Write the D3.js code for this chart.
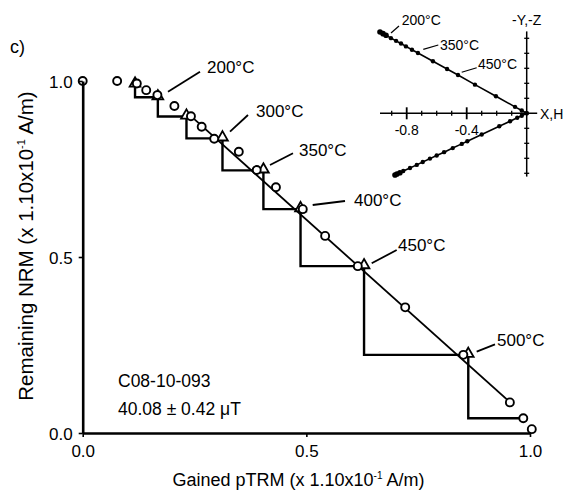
<!DOCTYPE html>
<html><head><meta charset="utf-8">
<script src="https://cdn.jsdelivr.net/npm/d3@7"></script>
<style>
body{margin:0;background:#fff}
svg{display:block}
text{font-family:"Liberation Sans",Arial,sans-serif;fill:#000}
</style>
</head><body>
<svg id="chart" width="565" height="490"></svg>
<script>
// ---- Arai plot data ----
const gainedPTRM   = [0, 0.077, 0.121, 0.142, 0.167, 0.205, 0.242, 0.266, 0.294, 0.349, 0.389, 0.432, 0.492, 0.542, 0.615, 0.721, 0.851, 0.955, 0.985, 1.004];
const remainingNRM = [1.0, 1.0, 0.993, 0.974, 0.960, 0.929, 0.900, 0.870, 0.836, 0.799, 0.747, 0.698, 0.636, 0.560, 0.474, 0.357, 0.222, 0.087, 0.042, 0.011];
// pTRM checks (triangles)
const checkPTRM = [0.117, 0.168, 0.232, 0.3125, 0.404, 0.487, 0.629, 0.862];
const checkNRM  = [0.990, 0.954, 0.899, 0.837, 0.746, 0.636, 0.474, 0.222];
const stairEndIndex = 18;
// best-fit segment
const fitPTRM = [0.242, 0.955];
const fitNRM  = [0.900, 0.088];
const stepLabels = ["200°C", "300°C", "350°C", "400°C", "450°C", "500°C"];
const axisTicks = [0.0, 0.5, 1.0];
const sampleName = "C08-10-093";
const intensity = "40.08 ± 0.42 μT";

// ---- Zijderveld inset data ----
const upperX = [-0.978, -0.958, -0.938, -0.905, -0.871, -0.838, -0.805, -0.765, -0.725, -0.625, -0.531, -0.458, -0.345, -0.205, -0.078, -0.033, 0];
const upperV = [0.542, 0.531, 0.520, 0.501, 0.483, 0.465, 0.446, 0.424, 0.402, 0.347, 0.295, 0.255, 0.191, 0.114, 0.043, 0.019, 0];
const lowerX = [-0.878, -0.865, -0.845, -0.823, -0.778, -0.733, -0.693, -0.645, -0.600, -0.551, -0.493, -0.433, -0.396, -0.300, -0.183, -0.111, -0.063, -0.033, 0];
const lowerV = [-0.411, -0.405, -0.396, -0.385, -0.365, -0.344, -0.325, -0.302, -0.281, -0.259, -0.232, -0.204, -0.186, -0.141, -0.086, -0.053, -0.030, -0.016, 0];
const insetHTicks = [-0.9, -0.8, -0.7, -0.6, -0.5, -0.4, -0.3, -0.2, -0.1];
const insetHMajor = [-0.8, -0.4];
const insetVTicks = [0.5, 0.4, 0.3, 0.2, 0.1, -0.1, -0.2, -0.3, -0.4];
const insetLabels = ["200°C", "350°C", "450°C"];

const svg = d3.select("#chart");
const x = d3.scaleLinear().domain([0, 1]).range([82.7, 530]);
const y = d3.scaleLinear().domain([0, 1]).range([433, 81]);

// axes
const gx = svg.append("g").attr("transform", "translate(0,433)")
  .call(d3.axisBottom(x).tickValues(axisTicks).tickFormat(d3.format(".1f")).tickSize(4).tickSizeOuter(0).tickPadding(8));
const gy = svg.append("g").attr("transform", "translate(82.7,0)")
  .call(d3.axisLeft(y).tickValues(axisTicks).tickFormat(d3.format(".1f")).tickSize(4).tickSizeOuter(0).tickPadding(6));
[gx, gy].forEach(g => {
  g.select(".domain").attr("stroke", "#000").attr("stroke-width", 2.6);
  g.selectAll(".tick line").attr("stroke", "#000").attr("stroke-width", 1.6);
  g.selectAll(".tick text").attr("font-size", 17).attr("font-family", '"Liberation Sans",Arial,sans-serif').attr("fill", "#000");
});
gy.selectAll(".tick text").attr("dy", "0.36em");

// axis titles
const xt = svg.append("text").attr("x", 298.5).attr("y", 486).attr("text-anchor", "middle").attr("font-size", 18);
xt.append("tspan").text("Gained pTRM (x 1.10x10");
xt.append("tspan").attr("font-size", 10).attr("dy", -7).text("-1");
xt.append("tspan").attr("dy", 7).text(" A/m)");
const yt = svg.append("text").attr("transform", "translate(33,246) rotate(-90)").attr("text-anchor", "middle").attr("font-size", 20.5);
yt.append("tspan").text("Remaining NRM (x 1.10x10");
yt.append("tspan").attr("font-size", 11).attr("dy", -8).text("-1");
yt.append("tspan").attr("dy", 8).text(" A/m)");

svg.append("text").attr("x", 10).attr("y", 53).attr("font-size", 18).text("c)");

// staircase of pTRM checks
const stairPts = [];
checkPTRM.forEach((cx, i) => {
  if (i === 0) stairPts.push([cx, checkNRM[i]]);
  else { stairPts.push([checkPTRM[i - 1], checkNRM[i]]); stairPts.push([cx, checkNRM[i]]); }
});
stairPts.push([checkPTRM[checkPTRM.length - 1], remainingNRM[stairEndIndex]]);
stairPts.push([gainedPTRM[stairEndIndex], remainingNRM[stairEndIndex]]);
svg.append("path").attr("d", d3.line().x(d => x(d[0])).y(d => y(d[1]))(stairPts))
  .attr("fill", "none").attr("stroke", "#000").attr("stroke-width", 2.4).attr("stroke-linejoin", "miter");

// fit line
svg.append("line").attr("x1", x(fitPTRM[0])).attr("y1", y(fitNRM[0])).attr("x2", x(fitPTRM[1])).attr("y2", y(fitNRM[1]))
  .attr("stroke", "#000").attr("stroke-width", 1.8);

// triangles
svg.selectAll(".tri").data(checkPTRM.map((d, i) => [d, checkNRM[i]])).join("path")
  .attr("transform", d => `translate(${x(d[0])},${y(d[1]) - 1})`)
  .attr("d", d3.symbol(d3.symbolTriangle, 50)())
  .attr("fill", "#fff").attr("stroke", "#000").attr("stroke-width", 1.8);

// circles
svg.selectAll(".pt").data(gainedPTRM.map((d, i) => [d, remainingNRM[i]])).join("circle")
  .attr("cx", d => x(d[0])).attr("cy", d => y(d[1])).attr("r", 4)
  .attr("fill", (d, i) => i === 0 ? "none" : "#fff").attr("stroke", "#000").attr("stroke-width", 1.9);

// step labels with leaders
const leaders = [
  [[168, 91.7], [200, 71.7], [207, 73]],
  [[230, 131.7], [248, 115], [256, 117]],
  [[270, 165], [293, 153.3], [299, 156]],
  [[312.7, 205], [345, 201], [354, 206]],
  [[371.7, 263.3], [396.7, 250], [398, 251]],
  [[476.7, 351.7], [495, 344.3], [497, 346]]
];
stepLabels.forEach((lab, i) => {
  const L = leaders[i];
  svg.append("line").attr("x1", L[0][0]).attr("y1", L[0][1]).attr("x2", L[1][0]).attr("y2", L[1][1])
    .attr("stroke", "#000").attr("stroke-width", 1.8);
  svg.append("text").attr("x", L[2][0]).attr("y", L[2][1]).attr("font-size", 17).text(lab);
});

svg.append("text").attr("x", 118).attr("y", 387).attr("font-size", 17.5).text(sampleName);
svg.append("text").attr("x", 118).attr("y", 415).attr("font-size", 17.5).text(intensity);

// ---- inset ----
const ix = d3.scaleLinear().domain([-1, 0]).range([376.7, 526.7]);
const iy = d3.scaleLinear().domain([-0.5, 0.5]).range([188.3, 38.3]);
const ins = svg.append("g");
ins.append("line").attr("x1", ix(-0.978)).attr("x2", ix(0.07)).attr("y1", iy(0)).attr("y2", iy(0)).attr("stroke", "#000").attr("stroke-width", 1.5);
ins.append("line").attr("x1", ix(0)).attr("x2", ix(0)).attr("y1", iy(0.546)).attr("y2", iy(-0.422)).attr("stroke", "#000").attr("stroke-width", 1.5);
ins.selectAll(".ht").data(insetHTicks).join("line")
  .attr("x1", d => ix(d)).attr("x2", d => ix(d))
  .attr("y1", d => iy(0) - (insetHMajor.includes(d) ? 6 : 2.5))
  .attr("y2", d => iy(0) + (insetHMajor.includes(d) ? 6 : 2.5))
  .attr("stroke", "#000").attr("stroke-width", d => insetHMajor.includes(d) ? 1.8 : 1.3);
ins.selectAll(".vt").data(insetVTicks).join("line")
  .attr("x1", ix(0) - 2.5).attr("x2", ix(0) + 2.5)
  .attr("y1", d => iy(d)).attr("y2", d => iy(d))
  .attr("stroke", "#000").attr("stroke-width", 1.3);
insetHMajor.forEach(v => ins.append("text").attr("x", ix(v)).attr("y", 135).attr("text-anchor", "middle").attr("font-size", 14).text(v.toFixed(1)));
ins.append("text").attr("x", 540).attr("y", 119).attr("font-size", 14).text("X,H");
ins.append("text").attr("x", ix(0)).attr("y", 25).attr("text-anchor", "middle").attr("font-size", 14).text("-Y,-Z");

const il = d3.line().x(d => ix(d[0])).y(d => iy(d[1]));
[[upperX, upperV], [lowerX, lowerV]].forEach(([xs, vs]) => {
  const pts = xs.map((d, i) => [d, vs[i]]);
  ins.append("path").attr("d", il(pts)).attr("fill", "none").attr("stroke", "#000").attr("stroke-width", 1.6);
  ins.selectAll(null).data(pts).join("circle").attr("cx", d => ix(d[0])).attr("cy", d => iy(d[1]))
    .attr("r", (d, i) => i < 3 ? 2.8 : 2.2).attr("fill", "#000");
});
const iLead = [
  [[391, 33], [399, 26], [401.7, 25]],
  [[423.3, 49.3], [438.3, 45], [440, 50]],
  [[461.7, 72.3], [476.7, 67.7], [478, 69]]
];
insetLabels.forEach((lab, i) => {
  const L = iLead[i];
  ins.append("line").attr("x1", L[0][0]).attr("y1", L[0][1]).attr("x2", L[1][0]).attr("y2", L[1][1]).attr("stroke", "#000").attr("stroke-width", 1.2);
  ins.append("text").attr("x", L[2][0]).attr("y", L[2][1]).attr("font-size", 14).text(lab);
});
</script>
</body></html>
